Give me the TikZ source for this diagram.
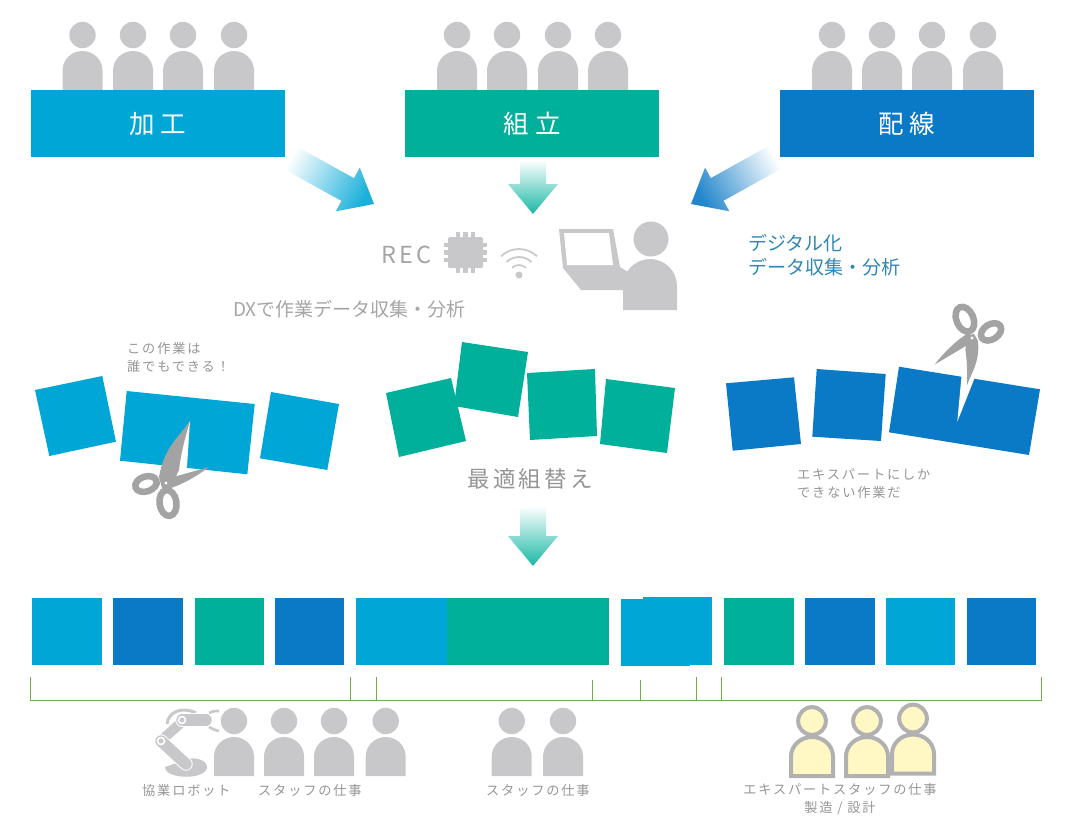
\documentclass[tikz,border=0pt]{standalone}
\usepackage{fontspec}
\usepackage{xcolor}
\usepackage{tikz}
\usetikzlibrary{calc}
\newfontfamily\cjk{Noto Sans CJK JP}
\newfontfamily\cjkwide[LetterSpace=14]{Noto Sans CJK JP}
\definecolor{cut}{HTML}{00A7D6}
\definecolor{mint}{HTML}{00B09B}
\definecolor{wire}{HTML}{0A79C6}
\definecolor{staffgray}{HTML}{C8C8CA}
\definecolor{blade}{HTML}{A3A3A3}
\definecolor{ink}{HTML}{959595}
\definecolor{lead}{HTML}{2F87B5}
\definecolor{leaf}{HTML}{70AD47}
\definecolor{cream}{HTML}{FFF8C4}
\newcommand{\staff}[4][fill=staffgray]{
  \path[#1] ({#2-#4},#3) -- ({#2-#4},{#3-19.5}) arc[start angle=180,end angle=0,x radius=#4 pt,y radius=19.5pt] -- ({#2+#4},#3) -- cycle;
  \path[#1] (#2,{#3-55}) circle[radius=0.66*#4 pt];
}
\newcommand{\blockarrow}[3]{
  \path ($(#2)!30pt!(#1)$) coordinate (neck);
  \path[shading=axis, bottom color=white, top color=#3!90, shading angle=\arrowturn]
    ($(#1)!13pt!90:(#2)$) -- ($(neck)!13pt!90:(#2)$) -- ($(neck)!25pt!90:(#2)$) -- (#2)
    -- ($(neck)!25pt!-90:(#2)$) -- ($(neck)!13pt!-90:(#2)$) -- ($(#1)!13pt!-90:(#2)$) -- cycle;
}
\newcommand{\scissors}[4]{
  \begin{scope}[shift={(#1,#2)},rotate=#3]
  \begin{scope}[scale=#4]
  \fill[blade] (24,-62) .. controls (12,-45) and (-2,-35) .. (-7,-6) -- (-4,5) -- (5,4) -- (13,-13) .. controls (15,-30) and (19,-45) .. (24,-62) -- cycle;
  \end{scope}
  \fill[blade] (43,-16) -- (11,-7) -- (-3,-3) -- (2,6) .. controls (15,2) and (30,-6) .. (43,-16) -- cycle;
  \draw[blade, line width=6.5pt, shift={(-20,1)}, rotate=18] (0,0) ellipse[x radius=11pt,y radius=7.5pt];
  \draw[blade, line width=6.5pt, shift={(2,20)}, rotate=-82] (0,0) ellipse[x radius=13pt,y radius=8.5pt];
  \fill[white] (0,0) circle[radius=1.6pt];
  \end{scope}
}
\begin{document}
\begin{tikzpicture}[x=1pt, y=-1pt,
  topbox/.style={minimum width=254.5pt, minimum height=67pt, inner sep=0pt, text=white, font=\cjk\fontsize{25.5}{30}\selectfont},
  big/.style={font=\cjkwide\fontsize{22.5}{27}\selectfont, text=ink},
  mid/.style={font=\cjk\fontsize{19}{24}\selectfont, text=ink},
  small/.style={font=\cjkwide\fontsize{13.2}{18}\selectfont, text=ink, align=left},
  tag/.style={anchor=west, inner sep=0pt}]
\useasboundingbox (0,0) rectangle (1068,823);
\foreach \px in {82.5,133,183,234,457,507,558,608,832,882,932,983} {\staff{\px}{90}{20}}
\node[topbox, fill=cut] (kako) at (158,123.5) {加 工};
\node[topbox, fill=mint] (kumi) at (532.2,123.5) {組 立};
\node[topbox, fill=wire] (hai) at (907,123.5) {配 線};
\coordinate (kakoout) at (287,156);
\coordinate (kakoin) at (374,204);
\coordinate (kumiout) at (533,160);
\coordinate (kumiin) at (533,214);
\coordinate (haiout) at (779,155);
\coordinate (haiin) at (691,204);
\coordinate (optout) at (533,506);
\coordinate (optin) at (533,566);
\def\arrowturn{-119}
\blockarrow{kakoout}{kakoin}{cut}
\def\arrowturn{180}
\blockarrow{kumiout}{kumiin}{mint}
\blockarrow{optout}{optin}{mint}
\def\arrowturn{119}
\blockarrow{haiout}{haiin}{wire}
\node[font=\cjkwide\fontsize{23.5}{26}\selectfont, text=ink!85, tag] (rec) at (381,255) {REC};
\fill[staffgray, rounded corners=1.5pt] (448,237) rectangle (483,268);
\foreach \pin in {-7.5,0,7.5} {
  \fill[staffgray] ({465.5+\pin-2.1},232) rectangle ({465.5+\pin+2.1},273);
  \fill[staffgray] (444,{252.5+\pin-2.1}) rectangle (487,{252.5+\pin+2.1});
}
\coordinate (signal) at (519,275);
\fill[staffgray] (signal) circle[radius=3.5pt];
\foreach \rad in {10,18,26} {
  \draw[staffgray, line width=1.7pt] (signal) ++(46:\rad pt) arc[start angle=46,end angle=134,radius=\rad pt];
}
\fill[staffgray] (559,229) -- (613,229) -- (620,267) -- (628,272) -- (628,290) -- (581,290) -- (563,268) -- cycle;
\fill[white] (564,233) -- (609,233) -- (613,265) -- (567,265) -- cycle;
\fill[staffgray] (651,239) circle[radius=17.5pt];
\fill[staffgray] (623,310) -- (623,286) arc[start angle=180,end angle=0,radius=27pt] -- (677,310) -- cycle;
\node[mid, text=ink!85, tag] (dx) at (233,309) {DXで作業データ収集・分析};
\node[mid, text=lead, tag, align=left] (digi) at (748,255) {デジタル化\\データ収集・分析};
\fill[cut] (35,390) -- (102.3,376) -- (116,441.7) -- (49.3,456) -- cycle;
\fill[cut] (126.7,391) -- (254.7,404) -- (247.3,474.3) -- (120,460.7) -- cycle;
\fill[cut] (271,392) -- (339,404) -- (327.3,470) -- (260,458.3) -- cycle;
\fill[white] (190,421) -- (187,467) -- (176,478) -- (165,470) -- cycle;
\scissors{166}{483}{0}{1}
\node[small, tag] (anyone) at (127,357) {この作業は\\誰でもできる！};
\fill[mint] (386,393) -- (451,378) -- (466,441) -- (399,457) -- cycle;
\fill[mint] (462,342) -- (528,352) -- (518,417) -- (454,406) -- cycle;
\fill[mint] (527,373) -- (595,369) -- (597,436) -- (530,440) -- cycle;
\fill[mint] (606,379) -- (675,388) -- (667,453) -- (600,444) -- cycle;
\node[big, anchor=center] (opt) at (530,479) {最適組替え};
\fill[wire] (726,383.3) -- (794,377.3) -- (801,444) -- (732.7,450.7) -- cycle;
\fill[wire] (816.7,369) -- (885.7,374) -- (881,441) -- (812.3,436.7) -- cycle;
\fill[wire] (899,366.7) -- (1040,389.3) -- (1029,455) -- (889,432.3) -- cycle;
\fill[white] (961.7,374) -- (975,377) -- (957.3,421.7) -- cycle;
\scissors{972}{338}{-165}{0.72}
\node[small, tag] (expert) at (797,484) {エキスパートにしか\\できない作業だ};
\foreach \xa/\xb/\col in {32/102/cut,113/183/wire,195/264/mint,275/344/wire,356/447/cut,447/609/mint,724/794/mint,805/875/wire,886/955/cut,967/1036/wire} {
  \fill[\col] (\xa,598) rectangle (\xb,665);
}
\fill[cut] (621,598.5) rectangle (690,666);
\fill[cut] (643,597) rectangle (712,664.5);
\draw[leaf, line width=0.9pt] (30,677) -- (30,700) -- (1041.7,700) -- (1041.7,677);
\foreach \tx/\ty in {350.5/677,376.5/677,592.7/680,640/680,696.7/677,721/677} {
  \draw[leaf, line width=0.9pt] (\tx,\ty) -- (\tx,700);
}
\draw[staffgray, line width=3pt] (167,724) .. controls (168,712) and (182,706) .. (196,713);
\draw[staffgray, line width=10pt] (164,738) -- (183,721);
\fill[staffgray] (165,767) .. controls (165,780) and (207,780) .. (207,767) .. controls (207,760) and (195,757) .. (188,759) -- cycle;
\draw[white, line width=13.5pt, line cap=round] (161,741) -- (186,764);
\draw[staffgray, line width=11.5pt, line cap=round] (161,741) -- (186,764);
\draw[white, line width=1.6pt] (161,741) circle[radius=3.5pt];
\draw[white, line width=13.5pt, line cap=round] (182,720) -- (206,720);
\draw[staffgray, line width=11.5pt, line cap=round] (182,720) -- (206,720);
\draw[white, line width=1.6pt] (182,720) circle[radius=3.5pt];
\draw[staffgray, line width=2.6pt] (209,713) .. controls (212,711) and (215,711) .. (219,711);
\draw[staffgray, line width=2.6pt] (209,727) .. controls (212,729) and (215,730) .. (219,731);
\foreach \px in {234,284,334,385.7,511.7,563} {\staff{\px}{776}{20}}
\staff[fill=cream, draw=blade!85, line width=4pt]{812}{776}{21}
\staff[fill=cream, draw=blade!85, line width=4pt]{867}{776}{21}
\staff[fill=cream, draw=blade!85, line width=4pt]{913}{773.5}{21}
\node[small, tag] (cobot) at (142,790) {協業ロボット};
\node[small, tag] (job1) at (258,790) {スタッフの仕事};
\node[small, tag] (job2) at (486,790) {スタッフの仕事};
\node[small, anchor=center, align=center] (job3) at (840,799) {エキスパートスタッフの仕事\\製造 / 設計};
\end{tikzpicture}
\end{document}
